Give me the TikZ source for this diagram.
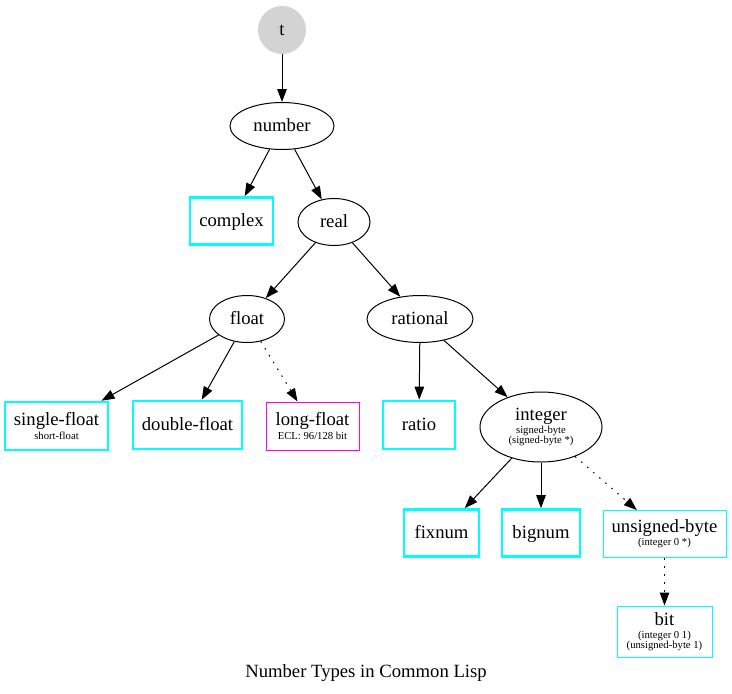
\documentclass[tikz,border=0pt]{standalone}
\usepackage{fontspec}
\setmainfont{Liberation Serif}
\usetikzlibrary{shapes.geometric,arrows.meta}
\definecolor{gvcyan}{HTML}{00FFFF}
\definecolor{gvmag}{HTML}{FF00FF}
\definecolor{gvgray}{HTML}{D3D3D3}
\newcommand{\gvbig}{\fontsize{18.67}{19}\selectfont}
\newcommand{\gvsm}{\fontsize{10.67}{11}\selectfont}
\begin{document}
\begin{tikzpicture}[x=1pt,y=-1pt,
  every node/.style={font=\gvbig, inner sep=0pt, align=center},
  one/.style={text height=15pt, text depth=4pt},
  ell/.style={draw=black, ellipse, line width=1pt},
  tbox/.style={draw=gvcyan, rectangle, line width=2.6pt},
  nbox/.style={draw=gvcyan, rectangle, line width=1pt},
  mbox/.style={draw=gvmag, rectangle, line width=1pt},
  arr/.style={draw=black, line width=1pt, -{Triangle[length=13pt,width=9.5pt]}},
  dotarr/.style={arr, dash pattern=on 1.5pt off 6.5pt}
]
\useasboundingbox (0,0) rectangle (732,694);
\node[one, circle, fill=gvgray, minimum size=48pt] (t) at (282,30) {t};
\node[one, ell, minimum width=104pt, minimum height=47pt] (number) at (282,126) {number};
\node[one, tbox, minimum width=83pt, minimum height=47pt] (complex) at (231.5,221) {complex};
\node[one, ell, minimum width=72pt, minimum height=47pt] (real) at (334,222) {real};
\node[one, ell, minimum width=75pt, minimum height=47pt] (float) at (247,319) {float};
\node[one, ell, minimum width=106pt, minimum height=47pt] (rational) at (420,319) {rational};
\node[tbox, minimum width=103pt, minimum height=48pt] (single) at (56.5,426) {single-float\\[-5pt]{\gvsm short-float}};
\node[one, tbox, minimum width=109pt, minimum height=48pt] (double) at (187.5,425) {double-float};
\node[mbox, minimum width=93pt, minimum height=48pt] (long) at (312.5,426) {long-float\\[-5pt]{\gvsm ECL: 96/128 bit}};
\node[one, tbox, minimum width=72pt, minimum height=48pt] (ratio) at (419,425) {ratio};
\node[ell, minimum width=122pt, minimum height=70pt] (integer) at (541,427) {integer\\[-6pt]{\gvsm signed-byte}\\[-8.5pt]{\gvsm (signed-byte *)}};
\node[one, tbox, minimum width=75pt, minimum height=47pt] (fixnum) at (441.5,533) {fixnum};
\node[one, tbox, minimum width=78pt, minimum height=47pt] (bignum) at (541,533) {bignum};
\node[nbox, minimum width=123pt, minimum height=47pt] (ubyte) at (664.5,534) {unsigned-byte\\[-6pt]{\gvsm (integer 0 *)}};
\node[nbox, minimum width=95pt, minimum height=51pt] (bit) at (664.5,631.5) {bit\\[-6pt]{\gvsm (integer 0 1)}\\[-8.5pt]{\gvsm (unsigned-byte 1)}};
\node[one] (title) at (366,672) {Number Types in Common Lisp};
\draw[arr] (t) -- (number);
\draw[arr] (number) -- (complex);
\draw[arr] (number) -- (real);
\draw[arr] (real) -- (float);
\draw[arr] (real) -- (rational);
\draw[arr] (float) -- (single);
\draw[arr] (float) -- (double);
\draw[dotarr] (float) -- (long);
\draw[arr] (rational) -- (ratio);
\draw[arr] (rational) -- (integer);
\draw[arr] (integer) -- (fixnum);
\draw[arr] (integer) -- (bignum);
\draw[dotarr] (integer) -- (ubyte);
\draw[dotarr] (ubyte) -- (bit);
\end{tikzpicture}
\end{document}
